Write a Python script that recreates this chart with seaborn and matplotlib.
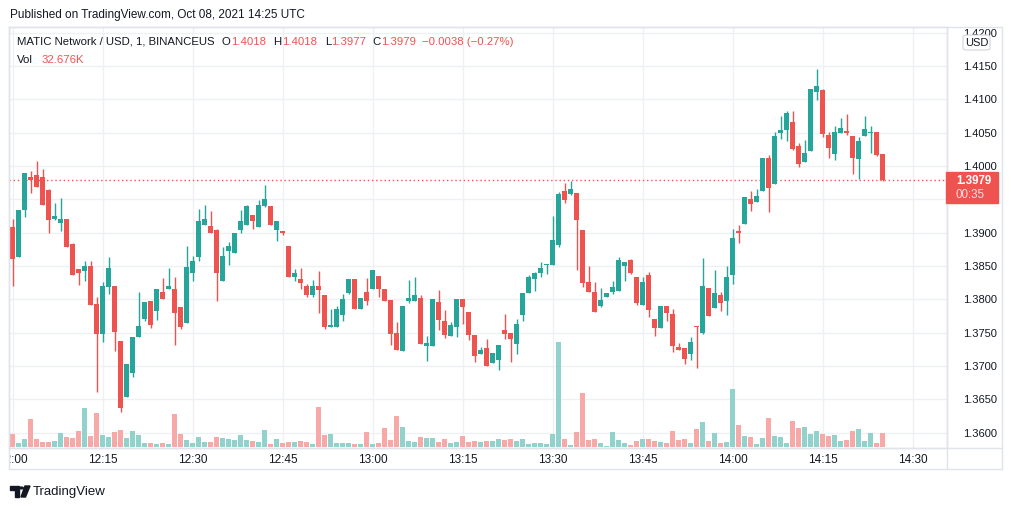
import matplotlib
matplotlib.use("Agg")
import matplotlib.pyplot as plt
import seaborn as sns
import pandas as pd
import numpy as np
from matplotlib.lines import Line2D
from matplotlib.patches import Rectangle, FancyBboxPatch, Polygon, Circle
from matplotlib.transforms import Bbox, TransformedBbox

# 1-minute candles MATIC/USD, 12:00 -> 14:25
opens = [1.3909, 1.3864, 1.3934, 1.3984, 1.3987, 1.3984, 1.3964, 1.3921, 1.3915, 1.3920,
         1.3883, 1.3846, 1.3843, 1.3850, 1.3793, 1.3748, 1.3819, 1.3820, 1.3737, 1.3654,
         1.3689, 1.3743, 1.3771, 1.3797, 1.3783, 1.3811, 1.3815, 1.3815, 1.3788, 1.3765,
         1.3840, 1.3864, 1.3911, 1.3910, 1.3904, 1.3828, 1.3872, 1.3869, 1.3904, 1.3911,
         1.3927, 1.3909, 1.3940, 1.3940, 1.3904, 1.3903, 1.3880, 1.3834, 1.3831, 1.3820,
         1.3807, 1.3820, 1.3807, 1.3759, 1.3759, 1.3777, 1.3809, 1.3830, 1.3786, 1.3811,
         1.3815, 1.3835, 1.3815, 1.3799, 1.3749, 1.3723, 1.3798, 1.3798, 1.3802, 1.3730,
         1.3730, 1.3796, 1.3768, 1.3745, 1.3759, 1.3801, 1.3781, 1.3747, 1.3718, 1.3727,
         1.3704, 1.3709, 1.3754, 1.3749, 1.3733, 1.3777, 1.3810, 1.3830, 1.3840, 1.3852,
         1.3851, 1.3882, 1.3963, 1.3958, 1.3960, 1.3904, 1.3826, 1.3811, 1.3790, 1.3804,
         1.3811, 1.3812, 1.3850, 1.3859, 1.3834, 1.3792, 1.3837, 1.3771, 1.3757, 1.3790,
         1.3778, 1.3728, 1.3727, 1.3718, 1.3760, 1.3749, 1.3817, 1.3787, 1.3807, 1.3797,
         1.3837, 1.3903, 1.3913, 1.3951, 1.3946, 1.3963, 1.4012, 1.3973, 1.4049, 1.4054,
         1.4066, 1.4030, 1.4006, 1.4023, 1.4111, 1.4114, 1.4047, 1.4018, 1.4050, 1.4053,
         1.4045, 1.4010, 1.4045, 1.4050, 1.4051, 1.4018]
highs = [1.3920, 1.3934, 1.3990, 1.3993, 1.4008, 1.3996, 1.3966, 1.3944, 1.3952, 1.3920,
         1.3884, 1.3846, 1.3858, 1.3858, 1.3803, 1.3826, 1.3864, 1.3820, 1.3737, 1.3703,
         1.3744, 1.3811, 1.3796, 1.3797, 1.3815, 1.3832, 1.3847, 1.3834, 1.3789, 1.3880,
         1.3865, 1.3935, 1.3941, 1.3933, 1.3906, 1.3879, 1.3886, 1.3900, 1.3934, 1.3941,
         1.3927, 1.3949, 1.3972, 1.3940, 1.3918, 1.3903, 1.3880, 1.3846, 1.3847, 1.3823,
         1.3829, 1.3843, 1.3807, 1.3786, 1.3790, 1.3808, 1.3830, 1.3830, 1.3802, 1.3832,
         1.3844, 1.3835, 1.3815, 1.3799, 1.3766, 1.3790, 1.3829, 1.3834, 1.3807, 1.3745,
         1.3801, 1.3814, 1.3784, 1.3766, 1.3801, 1.3801, 1.3781, 1.3747, 1.3729, 1.3741,
         1.3719, 1.3731, 1.3778, 1.3749, 1.3770, 1.3810, 1.3837, 1.3841, 1.3856, 1.3853,
         1.3925, 1.3961, 1.3975, 1.3978, 1.3960, 1.3904, 1.3850, 1.3826, 1.3817, 1.3810,
         1.3828, 1.3864, 1.3856, 1.3860, 1.3834, 1.3834, 1.3841, 1.3771, 1.3790, 1.3790,
         1.3786, 1.3734, 1.3727, 1.3743, 1.3760, 1.3862, 1.3817, 1.3844, 1.3811, 1.3850,
         1.3905, 1.3911, 1.3954, 1.3963, 1.3966, 1.4012, 1.4017, 1.4051, 1.4075, 1.4083,
         1.4083, 1.4035, 1.4039, 1.4116, 1.4146, 1.4116, 1.4051, 1.4060, 1.4072, 1.4078,
         1.4045, 1.4043, 1.4075, 1.4060, 1.4051, 1.4018]
lows = [1.3820, 1.3864, 1.3923, 1.3959, 1.3968, 1.3941, 1.3899, 1.3919, 1.3903, 1.3879,
        1.3837, 1.3822, 1.3828, 1.3792, 1.3661, 1.3736, 1.3808, 1.3723, 1.3631, 1.3654,
        1.3683, 1.3743, 1.3768, 1.3757, 1.3769, 1.3801, 1.3815, 1.3731, 1.3755, 1.3765,
        1.3828, 1.3857, 1.3911, 1.3899, 1.3798, 1.3828, 1.3852, 1.3869, 1.3899, 1.3911,
        1.3906, 1.3909, 1.3939, 1.3912, 1.3888, 1.3896, 1.3834, 1.3828, 1.3815, 1.3804,
        1.3804, 1.3779, 1.3755, 1.3759, 1.3759, 1.3768, 1.3808, 1.3786, 1.3786, 1.3792,
        1.3815, 1.3804, 1.3798, 1.3732, 1.3724, 1.3723, 1.3795, 1.3798, 1.3733, 1.3708,
        1.3730, 1.3754, 1.3742, 1.3745, 1.3744, 1.3763, 1.3739, 1.3706, 1.3718, 1.3700,
        1.3704, 1.3694, 1.3741, 1.3706, 1.3718, 1.3768, 1.3810, 1.3813, 1.3834, 1.3838,
        1.3851, 1.3879, 1.3944, 1.3957, 1.3844, 1.3819, 1.3811, 1.3781, 1.3788, 1.3804,
        1.3808, 1.3812, 1.3828, 1.3838, 1.3792, 1.3792, 1.3774, 1.3745, 1.3757, 1.3768,
        1.3721, 1.3724, 1.3703, 1.3709, 1.3697, 1.3748, 1.3775, 1.3787, 1.3783, 1.3777,
        1.3823, 1.3884, 1.3913, 1.3933, 1.3946, 1.3963, 1.3931, 1.3973, 1.4041, 1.4038,
        1.4024, 1.3999, 1.4006, 1.4023, 1.4099, 1.4044, 1.4012, 1.4009, 1.4050, 1.4047,
        1.3988, 1.3981, 1.4045, 1.4019, 1.4015, 1.3977]
closes = [1.3861, 1.3934, 1.3990, 1.3979, 1.3968, 1.3941, 1.3919, 1.3925, 1.3920, 1.3879,
          1.3837, 1.3840, 1.3850, 1.3792, 1.3748, 1.3820, 1.3847, 1.3751, 1.3637, 1.3703,
          1.3744, 1.3760, 1.3796, 1.3762, 1.3815, 1.3801, 1.3820, 1.3780, 1.3759, 1.3849,
          1.3858, 1.3918, 1.3920, 1.3899, 1.3840, 1.3865, 1.3880, 1.3900, 1.3918, 1.3940,
          1.3918, 1.3941, 1.3950, 1.3912, 1.3918, 1.3900, 1.3834, 1.3840, 1.3825, 1.3807,
          1.3820, 1.3814, 1.3759, 1.3761, 1.3786, 1.3801, 1.3830, 1.3786, 1.3802, 1.3798,
          1.3844, 1.3815, 1.3798, 1.3748, 1.3724, 1.3790, 1.3802, 1.3807, 1.3733, 1.3735,
          1.3801, 1.3769, 1.3747, 1.3762, 1.3801, 1.3789, 1.3747, 1.3715, 1.3724, 1.3700,
          1.3719, 1.3731, 1.3748, 1.3741, 1.3763, 1.3810, 1.3834, 1.3840, 1.3847, 1.3853,
          1.3889, 1.3958, 1.3949, 1.3966, 1.3919, 1.3825, 1.3811, 1.3781, 1.3799, 1.3810,
          1.3819, 1.3859, 1.3856, 1.3840, 1.3795, 1.3826, 1.3784, 1.3757, 1.3790, 1.3780,
          1.3730, 1.3724, 1.3711, 1.3736, 1.3759, 1.3820, 1.3775, 1.3810, 1.3795, 1.3834,
          1.3892, 1.3900, 1.3954, 1.3943, 1.3955, 1.4012, 1.3967, 1.4045, 1.4054, 1.4080,
          1.4026, 1.4003, 1.4020, 1.4116, 1.4120, 1.4048, 1.4027, 1.4051, 1.4057, 1.4050,
          1.4012, 1.4037, 1.4056, 1.4051, 1.4017, 1.3979]
# volume in thousands
volumes = [30.3, 9.3, 18.7, 65.4, 18.7, 11.7, 11.7, 14.0, 32.7, 23.3,
           21.0, 37.3, 91.0, 25.7, 79.4, 28.0, 23.3, 35.0, 39.7, 21.0,
           37.3, 28.0, 9.3, 9.3, 7.0, 9.3, 7.0, 77.0, 30.3, 16.3,
           9.3, 23.3, 11.7, 11.7, 23.3, 21.0, 18.7, 16.3, 28.0, 16.3,
           14.0, 11.7, 39.7, 7.0, 18.7, 9.3, 11.7, 11.7, 14.0, 11.7,
           7.0, 93.4, 28.0, 30.3, 9.3, 9.3, 9.3, 7.0, 7.0, 35.0,
           7.0, 9.3, 44.3, 16.3, 72.4, 46.7, 14.0, 11.7, 23.3, 21.0,
           21.0, 11.7, 18.7, 9.3, 11.7, 25.7, 11.7, 14.0, 11.7, 14.0,
           14.0, 18.7, 16.3, 18.7, 14.0, 18.7, 7.0, 9.3, 9.3, 7.0,
           30.3, 245.0, 18.7, 4.7, 35.0, 126.0, 16.3, 18.7, 9.3, 2.3,
           35.0, 16.3, 9.3, 4.7, 14.0, 18.7, 18.7, 14.0, 11.7, 9.3,
           37.3, 16.3, 18.7, 9.3, 42.0, 58.4, 14.0, 32.7, 9.3, 11.7,
           135.0, 51.3, 25.7, 23.3, 7.0, 21.0, 67.7, 25.7, 23.3, 9.3,
           60.7, 44.3, 46.7, 30.3, 37.3, 30.3, 25.7, 28.0, 14.0, 16.3,
           37.3, 42.0, 14.0, 32.7, 9.3, 32.676]

time_ticks = [0, 15, 30, 45, 60, 75, 90, 105, 120, 135, 150]
time_labels = ["12:00", "12:15", "12:30", "12:45", "13:00", "13:15",
               "13:30", "13:45", "14:00", "14:15", "14:30"]
price_ticks = [1.3600, 1.3650, 1.3700, 1.3750, 1.3800, 1.3850, 1.3900,
               1.3950, 1.4000, 1.4050, 1.4100, 1.4150, 1.4200]

UP, DOWN = "#26a69a", "#ef5350"
TXT = "#131722"
BORDER = "#e0e3eb"

df = pd.DataFrame({"minute": np.arange(len(opens)), "open": opens, "high": highs,
                   "low": lows, "close": closes, "volume": volumes})
df["dir"] = np.where(df["close"] >= df["open"], "up", "down")

sns.set_style("white")
plt.rcParams["font.family"] = ["Liberation Sans", "DejaVu Sans"]

W, H = 1012, 509
fig = plt.figure(figsize=(W / 100, H / 100), dpi=100)


def fx(x):
    return x / W


def fy(y):
    return 1 - y / H


L, R, T, B = 9, 947, 27, 448
xlim = (-0.617, 155.72)

# volume pane
vax = fig.add_axes([fx(L), fy(447), fx(R) - fx(L), fy(T) - fy(447)])
vax.set_zorder(1)
vax.patch.set_alpha(0)
sns.barplot(data=df, x="minute", y="volume", hue="dir", native_scale=True,
            palette={"up": "#92d2cc", "down": "#f7a9a7"}, width=0.83, dodge=False,
            errorbar=None, saturation=1, legend=False, ax=vax, linewidth=0)
vax.set_xlim(*xlim)
vax.set_ylim(0, 980)
vax.axis("off")

# price pane
ax = fig.add_axes([fx(L), fy(B), fx(R) - fx(L), fy(T) - fy(B)])
ax.set_zorder(0)
colors = np.where(df["dir"] == "up", UP, DOWN)
body_lo = df[["open", "close"]].min(axis=1)
body_h = (df["close"] - df["open"]).abs().clip(lower=0.00009)
ax.vlines(df["minute"], df["low"], df["high"], colors=colors, linewidth=1, zorder=3)
ax.bar(df["minute"], body_h, bottom=body_lo, width=0.8, color=colors, linewidth=0, zorder=4)
last = closes[-1]
ax.axhline(last, color=DOWN, linestyle=(0, (1, 2)), linewidth=1, zorder=2)

ax.set_xlim(*xlim)
ax.set_ylim(1.3577, 1.42085)
ax.set_yticks(price_ticks, [f"{p:.4f}" for p in price_ticks])
ax.set_xticks(time_ticks, time_labels)
ax.grid(True, color="#eef0f4", linewidth=1)
ax.yaxis.tick_right()
ax.tick_params(axis="y", length=0, pad=11.5, labelsize=8, labelcolor=TXT)
ax.tick_params(axis="x", length=0, pad=4, labelsize=8.5, labelcolor=TXT)
for s in ax.spines.values():
    s.set_color(BORDER)
    s.set_linewidth(1)
clipbox = TransformedBbox(Bbox.from_extents(fx(L), 0, fx(R), 1), fig.transFigure)
for t in ax.xaxis.get_major_ticks():
    t.label1.set_clip_box(clipbox)
    t.label1.set_clip_on(True)

# pane frame
for (x0, y0, x1, y1) in [(L, T, 1002, T), (1002, T, 1002, 469), (L, 469, 1002, 469),
                         (L, T, L, 469), (R, T, R, 469), (L, B, 1002, B)]:
    fig.add_artist(Line2D([fx(x0), fx(x1)], [fy(y0), fy(y1)], color=BORDER,
                          linewidth=1, transform=fig.transFigure, zorder=5))

# last price tag
fig.add_artist(Rectangle((fx(946), fy(203)), fx(52), 31 / H, color=DOWN,
                         transform=fig.transFigure, zorder=10))
fig.text(fx(956), fy(181), f"{last:.4f}", color="white", fontsize=8.3,
         fontweight="bold", va="center", ha="left", zorder=11)
fig.text(fx(956), fy(195), "00:35", color="#fde0df", fontsize=8.3,
         va="center", ha="left", zorder=11)

# USD box
fig.add_artist(FancyBboxPatch((fx(963), fy(50)), fx(27), 15 / H,
                              boxstyle="round,pad=0,rounding_size=0.004",
                              facecolor="white", edgecolor="#d1d4dc", linewidth=0.8,
                              transform=fig.transFigure, zorder=10))
fig.text(fx(976.5), fy(42.5), "USD", color=TXT, fontsize=8, ha="center",
         va="center", zorder=11)

# header
fig.text(fx(10), fy(15), "Published on TradingView.com, Oct 08, 2021 14:25 UTC",
         fontsize=8.5, color=TXT, va="center", ha="left")
HS = 8.2
y2 = fy(42)
fig.text(fx(17), y2, "MATIC Network / USD, 1, BINANCEUS", fontsize=HS, color=TXT, va="center")
chg = closes[-1] - closes[-2]
pct = chg / closes[-2] * 100
for lab, val, x_lab, x_val in [("O", opens[-1], 222, 231.5), ("H", highs[-1], 273, 282.5),
                               ("L", lows[-1], 325, 331.5), ("C", closes[-1], 372, 381)]:
    fig.text(fx(x_lab), y2, lab, fontsize=HS, color=TXT, va="center")
    fig.text(fx(x_val), y2, f"{val:.4f}", fontsize=HS, color=DOWN, va="center")
fig.text(fx(422.5), y2, f"{chg:+.4f} ({pct:+.2f}%)".replace("-", "\u2212"),
         fontsize=HS, color=DOWN, va="center")
fig.text(fx(17), fy(60), "Vol", fontsize=HS, color=TXT, va="center")
fig.text(fx(41.5), fy(60), f"{volumes[-1]:.3f}K", fontsize=HS, color=DOWN, va="center")

# footer logo
fig.add_artist(Polygon([[fx(10), fy(486)], [fx(19), fy(486)], [fx(19), fy(497)],
                        [fx(15.5), fy(497)], [fx(15.5), fy(489.5)], [fx(10), fy(489.5)]],
                       closed=True, color=TXT, transform=fig.transFigure))
fig.add_artist(Circle((fx(21.5), fy(488)), 1.8 / W, color=TXT, transform=fig.transFigure))
fig.add_artist(Polygon([[fx(25), fy(486)], [fx(30), fy(486)], [fx(25.5), fy(497)],
                        [fx(21), fy(497)]], closed=True, color=TXT,
                       transform=fig.transFigure))
fig.text(fx(33), fy(491.5), "TradingView", fontsize=9.5, color=TXT, va="center")

fig.savefig("out.png", dpi=100)
